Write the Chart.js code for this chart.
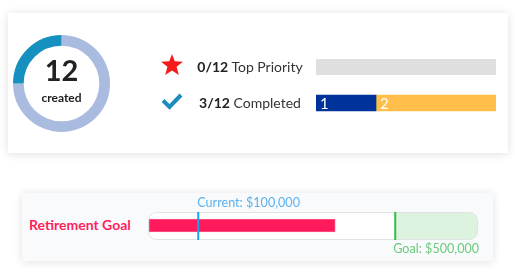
<!DOCTYPE html>
<html>
<head>
<meta charset="utf-8">
<script src="https://cdn.jsdelivr.net/npm/chart.js"></script>
<style>
  body { margin: 0; width: 515px; height: 276px; background: #fff; font-family: Lato, "Noto Sans", sans-serif; position: relative; overflow: hidden; }
  .card { position: absolute; }
  #card1 { left: 8px; top: 13px; width: 500px; height: 140px; background: #fff; box-shadow: 0 1px 9px rgba(0,0,0,0.13); }
  #card2 { left: 22px; top: 193px; width: 471px; height: 68px; background: #f9fafc; box-shadow: 0 1px 9px rgba(0,0,0,0.12); }
  canvas { position: absolute; }
  .center { position: absolute; left: 13px; top: 35px; width: 97px; text-align: center; color: #222; }
  .big { position: absolute; left: 0; width: 97px; top: 20px; font-size: 29px; font-weight: 700; line-height: 30px; }
  .small { position: absolute; left: 0; width: 97px; top: 56px; font-size: 12px; font-weight: 700; line-height: 14px; }
  .row { position: absolute; width: 120px; left: 190px; text-align: center; font-size: 14px; color: #333; line-height: 18px; }
  .row b { color: #222; }
  .icon { position: absolute; }
  .goal-label { position: absolute; left: 29px; top: 216px; font-size: 14px; font-weight: 700; color: #ff1f5b; line-height: 18px; }
</style>
</head>
<body>
<div class="card" id="card1"></div>
<div class="card" id="card2"></div>

<canvas id="ringChart" width="97" height="97" style="left:13px;top:35px"></canvas>
<div class="center"><div class="big" id="totalText"></div><div class="small">created</div></div>

<svg class="icon" style="left:161px;top:54px" width="22" height="21" viewBox="0 0 24 23">
  <polygon points="12,0 15,8 24,8.5 17,14 19.5,23 12,18 4.5,23 7,14 0,8.5 9,8" fill="#f51b1b"/>
</svg>
<svg class="icon" style="left:161px;top:93px" width="22" height="17" viewBox="0 0 22 17">
  <polyline points="2,7.5 8.5,14 20,2" fill="none" stroke="#1a8cc0" stroke-width="4"/>
</svg>
<div class="row" id="row0" style="top:58px"></div>
<div class="row" id="row1" style="top:94px"></div>

<canvas id="statusChart" width="180" height="72" style="left:316px;top:49px"></canvas>

<div class="goal-label">Retirement Goal</div>
<canvas id="goalChart" width="471" height="68" style="left:22px;top:193px"></canvas>

<script>
// task counts
const totalTasks = 12;
const statusLabels = ['Top Priority', 'Completed'];
const statusCounts = [0, 3];
const splitOne = [0, 1];
const splitTwo = [0, 2];

// retirement figures
const currentSaved = 100000;
const goalAmount = 500000;
const progressValue = 378000;
const goalScaleMax = 666000;

document.getElementById('totalText').textContent = totalTasks;
statusLabels.forEach((lab, i) => {
  document.getElementById('row' + i).innerHTML = '<b>' + statusCounts[i] + '/' + totalTasks + '</b> ' + lab;
});

// ring: remaining first so the completed part sits at 9-12 o'clock
new Chart(document.getElementById('ringChart'), {
  type: 'doughnut',
  data: {
    labels: ['Open', 'Completed'],
    datasets: [{
      data: [totalTasks - statusCounts[1], statusCounts[1]],
      backgroundColor: ['#a9bcdf', '#1690bf'],
      borderWidth: 0
    }]
  },
  options: {
    responsive: false,
    animation: false,
    cutout: '78%',
    plugins: { legend: { display: false }, tooltip: { enabled: false } }
  }
});

// grey track behind each row + white value text on segments
const trackPlugin = {
  id: 'track',
  beforeDatasetsDraw(chart) {
    const ctx = chart.ctx, area = chart.chartArea, y = chart.scales.y;
    ctx.save();
    ctx.fillStyle = '#dfdfdf';
    statusLabels.forEach((l, i) => {
      const cy = y.getPixelForValue(i);
      ctx.fillRect(area.left, cy - 8, area.right - area.left, 16);
    });
    ctx.restore();
  },
  afterDatasetsDraw(chart) {
    const ctx = chart.ctx;
    ctx.save();
    ctx.fillStyle = '#fff';
    ctx.font = '15px Lato, "Noto Sans", sans-serif';
    ctx.textBaseline = 'middle';
    chart.data.datasets.forEach((ds, d) => {
      chart.getDatasetMeta(d).data.forEach((bar, i) => {
        if (ds.data[i] > 0) ctx.fillText(ds.data[i], bar.base + 4, bar.y + 1);
      });
    });
    ctx.restore();
  }
};

const hideZero = color => c => (c.raw > 0 ? color : 'rgba(0,0,0,0)');

new Chart(document.getElementById('statusChart'), {
  type: 'bar',
  data: {
    labels: statusLabels,
    datasets: [
      { data: splitOne, backgroundColor: hideZero('#003399'), barThickness: 16 },
      { data: splitTwo, backgroundColor: hideZero('#ffbf4a'), barThickness: 16 }
    ]
  },
  options: {
    indexAxis: 'y',
    responsive: false,
    animation: false,
    layout: { padding: 0 },
    scales: {
      x: { stacked: true, display: false, min: 0, max: Math.max(...statusCounts) },
      y: { stacked: true, display: false }
    },
    plugins: { legend: { display: false }, tooltip: { enabled: false } }
  },
  plugins: [trackPlugin]
});

// retirement bullet bar
const goalPlugin = {
  id: 'goalMarks',
  beforeDatasetsDraw(chart) {
    const ctx = chart.ctx, a = chart.chartArea, x = chart.scales.x;
    const l = a.left - 0.5, t = a.top + 0.5, w = a.right - a.left + 1, h = a.bottom - a.top;
    ctx.save();
    ctx.beginPath();
    ctx.roundRect(l, t, w, h, 8);
    ctx.fillStyle = '#fff';
    ctx.fill();
    ctx.save();
    ctx.clip();
    const gx = x.getPixelForValue(goalAmount);
    ctx.fillStyle = '#dcf3e0';
    ctx.fillRect(gx, t, a.right - gx + 2, h);
    ctx.restore();
    ctx.strokeStyle = '#e2e2e2';
    ctx.lineWidth = 1;
    ctx.stroke();
    ctx.restore();
  },
  afterDatasetsDraw(chart) {
    const ctx = chart.ctx, a = chart.chartArea, x = chart.scales.x;
    const cx = x.getPixelForValue(currentSaved), gx = x.getPixelForValue(goalAmount);
    ctx.save();
    ctx.lineWidth = 2;
    ctx.strokeStyle = '#1aa3f0';
    ctx.beginPath(); ctx.moveTo(cx, a.top); ctx.lineTo(cx, a.bottom + 1); ctx.stroke();
    ctx.strokeStyle = '#2fbf45';
    ctx.beginPath(); ctx.moveTo(gx, a.top); ctx.lineTo(gx, a.bottom + 1); ctx.stroke();
    ctx.font = '12.6px Lato, "Noto Sans", sans-serif';
    ctx.textBaseline = 'middle';
    ctx.fillStyle = '#5ab2ee';
    ctx.fillText('Current: $' + currentSaved.toLocaleString('en-US'), cx - 1, a.top - 9);
    ctx.fillStyle = '#6cc97a';
    ctx.fillText('Goal: $' + goalAmount.toLocaleString('en-US'), gx - 2, a.bottom + 10);
    ctx.restore();
  }
};

new Chart(document.getElementById('goalChart'), {
  type: 'bar',
  data: {
    labels: ['Retirement Goal'],
    datasets: [{
      data: [progressValue],
      backgroundColor: '#ff1a5c',
      borderColor: '#ff5a88',
      borderWidth: 1,
      borderSkipped: false,
      barThickness: 13
    }]
  },
  options: {
    indexAxis: 'y',
    responsive: false,
    animation: false,
    layout: { padding: { left: 127, right: 16, top: 19, bottom: 22 } },
    scales: {
      x: { display: false, min: 0, max: goalScaleMax },
      y: { display: false }
    },
    plugins: { legend: { display: false }, tooltip: { enabled: false } }
  },
  plugins: [goalPlugin]
});
</script>
</body>
</html>
